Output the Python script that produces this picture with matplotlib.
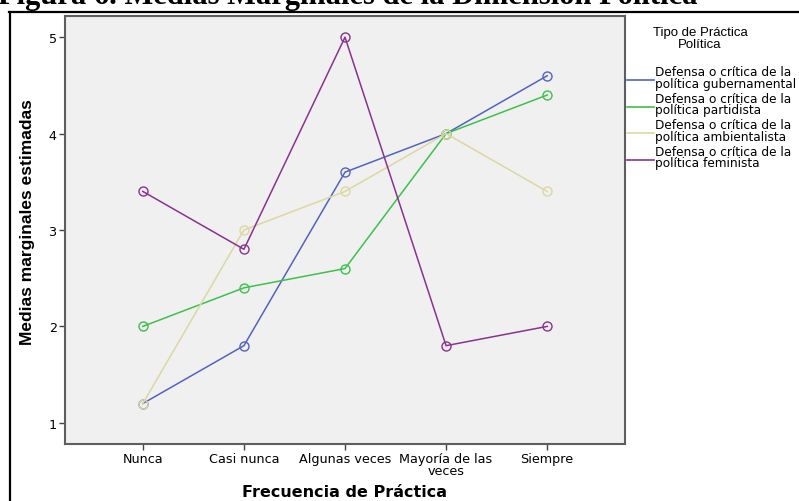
import numpy as np
import matplotlib.pyplot as plt
from matplotlib.lines import Line2D

# Datos (medias marginales estimadas)
categorias = ['Nunca', 'Casi nunca', 'Algunas veces', 'Mayoría de las\nveces', 'Siempre']
gubernamental = [1.2, 1.8, 3.6, 4.0, 4.6]
partidista = [2.0, 2.4, 2.6, 4.0, 4.4]
ambientalista = [1.2, 3.0, 3.4, 4.0, 3.4]
feminista = [3.4, 2.8, 5.0, 1.8, 2.0]

etiquetas = ['Defensa o crítica de la\npolítica gubernamental',
             'Defensa o crítica de la\npolítica partidista',
             'Defensa o crítica de la\npolítica ambientalista',
             'Defensa o crítica de la\npolítica feminista']
colores = ['#5263c2', '#3dc14b', '#dcd8a0', '#8a3290']

plt.rcParams['font.family'] = ['DejaVu Sans']

W, H = 799, 502
fig = plt.figure(figsize=(W / 100, H / 100), dpi=100)
ax = fig.add_axes([65 / W, 1 - 445 / H, 560 / W, 428 / H])
ax.set_facecolor('#f0f0f0')

x = np.arange(len(categorias))
series = [gubernamental, partidista, ambientalista, feminista]
for serie, col, lab in zip(series, colores, etiquetas):
    ax.plot(x, serie, '-o', color=col, lw=1.1, ms=6.5, mfc='none', mew=1.0, label=lab)

ax.set_xlim(-0.77, 4.77)
ax.set_ylim(0.78, 5.22)
ax.set_xticks(x)
ax.set_xticklabels(categorias, fontsize=9.2, linespacing=0.85)
ax.set_yticks([1, 2, 3, 4, 5])
ax.tick_params(axis='both', length=4, width=1, color='#444444', labelsize=9.2, pad=2)
for s in ax.spines.values():
    s.set_color('#5e5e5e')
    s.set_linewidth(1.5)

ax.set_xlabel('Frecuencia de Práctica', fontsize=11.5, fontweight='bold', labelpad=5)
ax.set_ylabel('Medias marginales estimadas', fontsize=12.5, fontweight='bold',
              family='Liberation Sans')
ax.yaxis.set_label_coords(-0.054, 0.521)

# Leyenda (línea entre las dos líneas de texto, estilo SPSS)
fig.text(700 / W, 1 - 39 / H, 'Tipo de Práctica\nPolítica', family='Liberation Sans',
         fontsize=9.5, ha='center', va='center', linespacing=0.95)
for i, (col, lab) in enumerate(zip(colores, etiquetas)):
    yl = 81 + 26.5 * i
    fig.add_artist(Line2D([627 / W, 654 / W], [1 - yl / H, 1 - yl / H],
                          transform=fig.transFigure, color=col, lw=1.2))
    fig.text(655 / W, 1 - (yl - 2.5) / H, lab, fontsize=8.7, ha='left', va='center',
             linespacing=0.88)

# Borde exterior de la figura
fig.add_artist(Line2D([9.5 / W, 9.5 / W], [0, 1 - 12.5 / H], transform=fig.transFigure,
                      color='black', lw=1.6))
fig.add_artist(Line2D([9 / W, 1], [1 - 12.5 / H, 1 - 12.5 / H], transform=fig.transFigure,
                      color='black', lw=1.6))

# Título (recortado en la parte superior, como en el original)
fig.text(-2 / W, 1 - 4 / H, 'Figura 6. Medias Marginales de la Dimensión Política',
         family='Liberation Serif', fontweight='bold', fontsize=22,
         ha='left', va='baseline')

fig.savefig('out.png', dpi=100)
